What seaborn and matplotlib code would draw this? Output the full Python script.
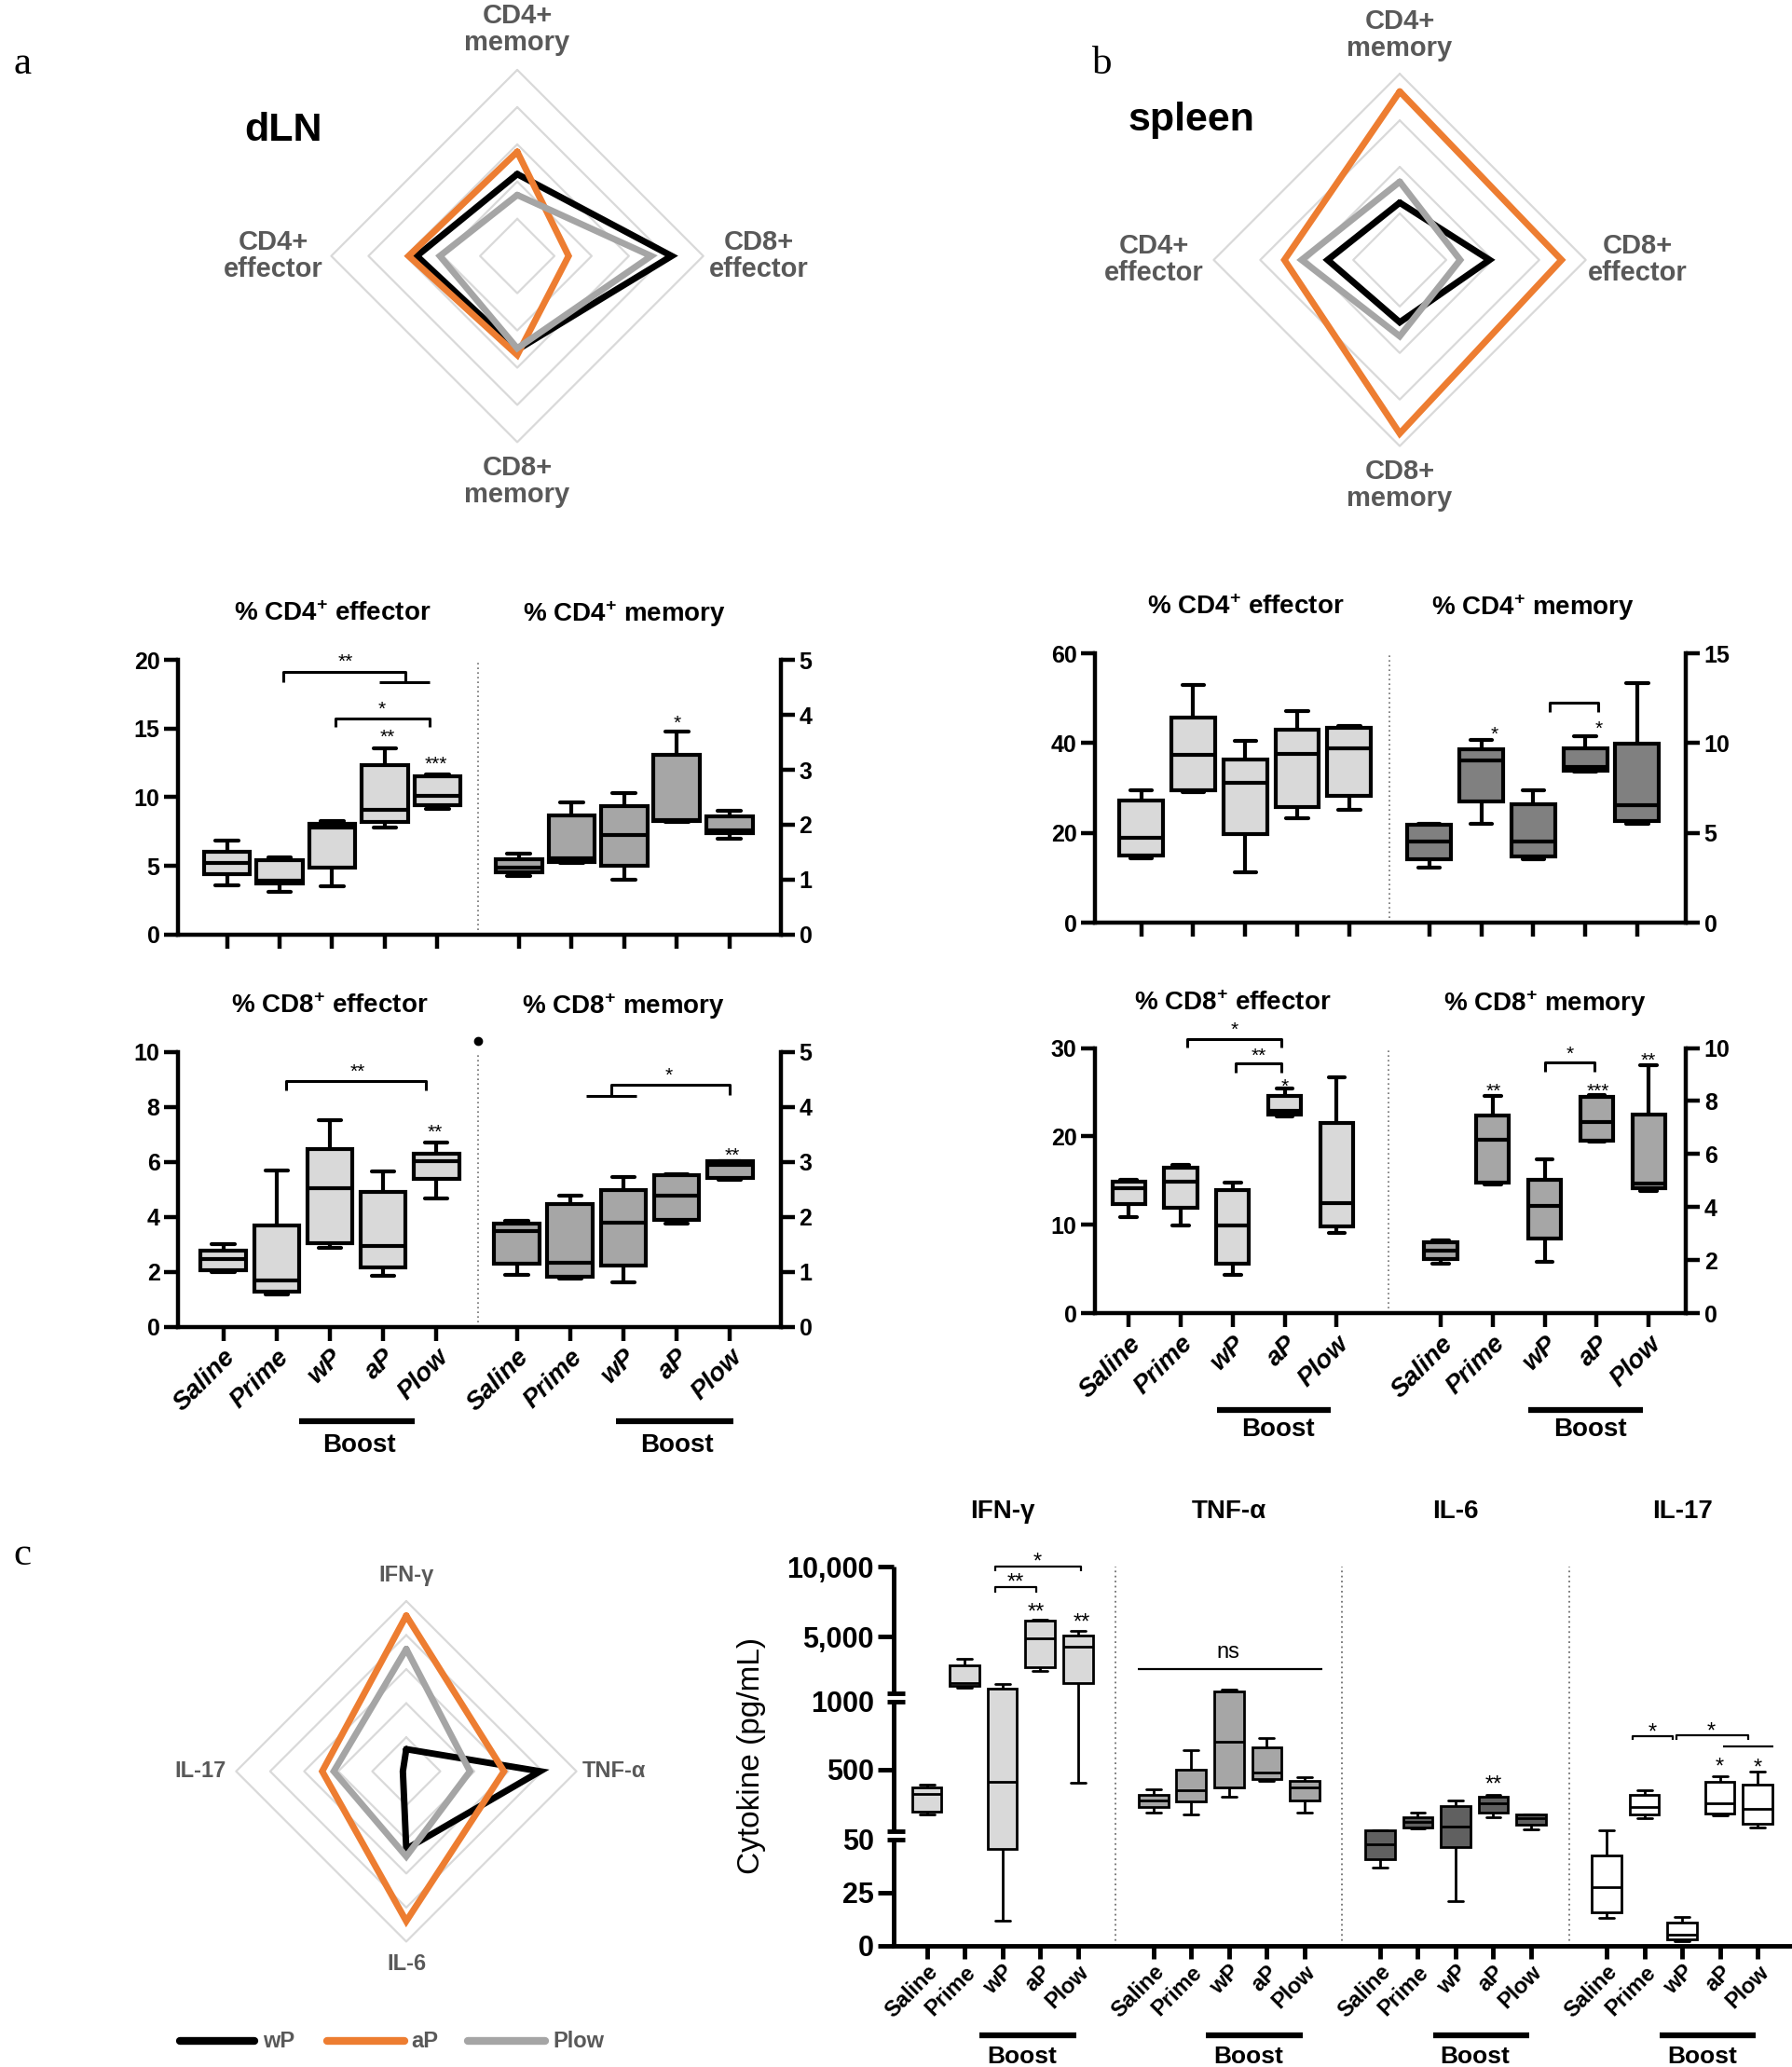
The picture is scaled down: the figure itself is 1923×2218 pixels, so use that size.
import numpy as np
import pandas as pd
import matplotlib
matplotlib.use("Agg")
import matplotlib.pyplot as plt
import matplotlib.transforms as mtrans
from matplotlib.lines import Line2D
import seaborn as sns

sns.set_theme(style="ticks", rc={"axes.edgecolor": "black", "xtick.color": "black",
                                 "ytick.color": "black", "text.color": "black",
                                 "axes.labelcolor": "black"})
plt.rcParams["font.family"] = ["Liberation Sans", "DejaVu Sans"]
plt.rcParams["font.weight"] = "bold"
plt.rcParams["mathtext.fontset"] = "custom"
plt.rcParams["mathtext.bf"] = "Liberation Sans:bold"
plt.rcParams["mathtext.rm"] = "Liberation Sans"

# ---------------- data ----------------
groups = ["Saline", "Prime", "wP", "aP", "Plow"]
radar_colors = {"wP": "#000000", "aP": "#ed7d31", "Plow": "#a5a5a5"}

# radar values in ring units, order: top, right, bottom, left
cell_axes = ["CD4+\nmemory", "CD8+\neffector", "CD8+\nmemory", "CD4+\neffector"]
dln_wp = [2.2, 4.15, 2.52, 2.7]
dln_ap = [2.8, 1.38, 2.66, 2.92]
dln_plow = [1.64, 3.6, 2.48, 2.08]
spleen_wp = [1.23, 1.93, 1.34, 1.55]
spleen_ap = [3.62, 3.48, 3.73, 2.48]
spleen_plow = [1.68, 1.30, 1.64, 2.11]
cyto_axes = ["IFN-γ", "TNF-α", "IL-6", "IL-17"]
cyto_wp = [0.65, 3.93, 2.28, 0.1]
cyto_ap = [4.57, 2.87, 4.4, 2.47]
cyto_plow = [3.59, 1.87, 2.5, 2.13]

# box plots: min, q1, median, q3, max per group
dln_cd4_eff = [[3.60, 4.40, 5.24, 6.04, 6.83], [3.10, 3.75, 3.95, 5.42, 5.65],
               [3.49, 4.85, 7.81, 8.09, 8.27], [7.81, 8.20, 9.07, 12.37, 13.58],
               [9.18, 9.45, 10.09, 11.50, 11.69]]
dln_cd4_mem = [[1.07, 1.13, 1.21, 1.37, 1.47], [1.30, 1.32, 1.38, 2.17, 2.40],
               [1.00, 1.26, 1.82, 2.33, 2.58], [2.05, 2.06, 2.08, 3.27, 3.70],
               [1.74, 1.84, 1.90, 2.15, 2.26]]
dln_cd8_eff = [[1.97, 2.06, 2.46, 2.77, 3.00], [1.17, 1.27, 1.68, 3.67, 5.70],
               [2.88, 3.05, 5.04, 6.48, 7.51], [1.85, 2.15, 2.93, 4.92, 5.66],
               [4.67, 5.37, 6.01, 6.31, 6.72]]
dln_cd8_mem = [[0.94, 1.14, 1.74, 1.88, 1.93], [0.88, 0.91, 1.17, 2.23, 2.39],
               [0.80, 1.12, 1.89, 2.49, 2.73], [1.87, 1.94, 2.39, 2.76, 2.77],
               [2.67, 2.71, 2.95, 3.01, 3.02]]
spl_cd4_eff = [[14.3, 15.0, 18.9, 27.3, 29.5], [29.0, 29.5, 37.3, 45.6, 53.0],
               [11.3, 19.8, 31.2, 36.3, 40.6], [23.3, 25.7, 37.5, 42.9, 47.2],
               [25.2, 28.3, 38.8, 43.4, 43.8]]
spl_cd4_mem = [[3.05, 3.52, 4.51, 5.43, 5.51], [5.51, 6.73, 9.02, 9.64, 10.2],
               [3.55, 3.69, 4.51, 6.61, 7.39], [8.43, 8.46, 8.69, 9.73, 10.37],
               [5.51, 5.64, 6.52, 9.99, 13.37]]
spl_cd8_eff = [[10.88, 12.35, 14.18, 14.88, 15.05], [9.89, 11.89, 14.91, 16.49, 16.74],
               [4.39, 5.58, 9.96, 13.93, 14.8], [22.25, 22.46, 22.9, 24.6, 25.4],
               [9.09, 9.82, 12.46, 21.5, 26.7]]
spl_cd8_mem = [[1.86, 2.04, 2.36, 2.68, 2.75], [4.85, 4.91, 6.55, 7.45, 8.21],
               [1.95, 2.83, 4.06, 5.03, 5.79], [6.46, 6.51, 7.22, 8.15, 8.23],
               [4.61, 4.70, 4.88, 7.49, 9.36]]

# cytokines (pg/mL)
ifn = [[169, 194, 319, 367, 389], [1351, 1486, 1702, 3000, 3457],
       [11.6, 45.5, 411, 1297, 1621], [2593, 2863, 4888, 6157, 6211],
       [403, 1702, 4321, 5077, 5428]]
tnf = [[183, 222, 272, 314, 356], [167, 264, 347, 500, 642],
       [300, 367, 703, 1108, 1243], [417, 433, 475, 661, 731],
       [183, 272, 367, 417, 447]]
il6 = [[36.6, 40.7, 47.9, 55, 56], [69, 78, 119, 153, 186],
       [21.1, 46.4, 83, 231, 272], [147, 181, 250, 300, 314],
       [58, 97, 142, 167, 172]]
il17 = [[13.0, 15.7, 27.7, 42.5, 53], [142, 169, 225, 314, 347],
        [2.3, 3.2, 5.4, 11.1, 13.4], [161, 175, 250, 411, 453],
        [75, 103, 208, 389, 486]]
cyto_ticks = [0, 25, 50, 500, 1000, 5000, 10000]
cyto_tick_labels = ["0", "25", "50", "500", "1000", "5,000", "10,000"]

fig = plt.figure(figsize=(19.24, 22.18), dpi=100)
fig.patch.set_facecolor("white")


def star(ax, x, y, s, size=15):
    tr = mtrans.offset_copy(ax.transData, fig=fig, y=-4, units="points")
    ax.text(x, y, s, ha="center", va="center", fontsize=size, fontweight="normal",
            transform=tr, clip_on=False)


def line(ax, pts, lw=2.2):
    xs, ys = zip(*pts)
    ax.plot(xs, ys, color="black", lw=lw, clip_on=False, solid_capstyle="butt")


def radar(rect, labels, series, n_rings, label_pos, fs=21):
    ax = fig.add_axes(rect)
    ax.set_xlim(-1.2, 1.2)
    ax.set_ylim(-1.2, 1.2)
    ax.axis("off")
    dirs = np.array([[0, 1], [1, 0], [0, -1], [-1, 0], [0, 1]])
    for k in range(1, n_rings + 1):
        ring = dirs * k / n_rings
        ax.plot(ring[:, 0], ring[:, 1], color="#d9d9d9", lw=1.6, zorder=1)
    for name, vals in series:
        r = np.append(vals, vals[0]) / n_rings
        ax.plot(dirs[:, 0] * r, dirs[:, 1] * r, color=radar_colors[name], lw=5,
                solid_joinstyle="miter", zorder=2)
    for lab, (x, y) in zip(labels, label_pos):
        ax.text(x, y, lab, ha="center", va="center", fontsize=fs, color="#595959",
                linespacing=1.05)
    return ax


def box_panel(rect, left, right, colors, lay, lims, titles, show_names, notes):
    ax = fig.add_axes(rect)
    ax2 = ax.twinx()
    off = lay["offset"]
    for a, vals, shift, col in ((ax, left, 0, colors[0]), (ax2, right, off, colors[1])):
        df = pd.DataFrame({"pos": np.repeat(np.arange(len(vals)) + shift, len(vals[0])),
                           "val": np.concatenate(vals)})
        sns.boxplot(data=df, x="pos", y="val", native_scale=True, whis=(0, 100),
                    width=lay["width"], color=col, linecolor="black", linewidth=3.0,
                    fliersize=0, saturation=1, ax=a)
        a.set(xlabel="", ylabel="")
    ax.set_xlim(*lay["xlim"])
    ax.set_ylim(0, lims[0])
    ax.set_yticks(list(range(0, lims[0] + 1, lims[1])))
    ax2.set_ylim(0, lims[2])
    ax2.set_yticks(list(range(0, lims[2] + 1, lims[3])))
    for a in (ax, ax2):
        for s in a.spines.values():
            s.set_visible(False)
    for sp in (ax.spines["left"], ax.spines["bottom"], ax2.spines["right"]):
        sp.set_visible(True)
        sp.set_linewidth(3.2)
    ax.tick_params(axis="both", width=3.2, length=11, labelsize=18, pad=3)
    ax2.tick_params(axis="y", width=3.2, length=11, labelsize=18, pad=3)
    pos = list(range(5)) + [off + i for i in range(5)]
    ax.set_xticks(pos)
    if show_names:
        ax.set_xticklabels(groups * 2, rotation=45, ha="right", rotation_mode="anchor",
                           fontstyle="italic", fontsize=20)
        by, ty = lay["boost_y"]
        xt = ax.get_xaxis_transform()
        for x0, x1, xc in lay["boost"]:
            ax.plot([x0, x1], [by, by], transform=xt, color="black", lw=4.5,
                    clip_on=False, solid_capstyle="butt")
            ax.text(xc, ty, "Boost", transform=xt, ha="center", va="center", fontsize=20)
    else:
        ax.set_xticklabels([""] * 10)
    ax.axvline(lay["sep"], color="#707070", ls=(0, (1, 2)), lw=1.2)
    xt = ax.get_xaxis_transform()
    ax.text(2, lay["title_y"], titles[0], transform=xt, ha="center", va="center", fontsize=20)
    ax.text(off + 2, lay["title_y"], titles[1], transform=xt, ha="center", va="center",
            fontsize=20)
    for side, kind, *args in notes:
        a, sh = (ax, 0) if side == "L" else (ax2, off)
        if kind == "b":
            line(a, [(x + sh, y) for x, y in args[0]])
        elif kind == "t":
            star(a, args[0] + sh, args[1], args[2])
        elif kind == "dot":
            a.plot(args[0], args[1], "o", ms=6, color="black", clip_on=False)
    return ax, ax2


# ---------------- panel a / b radars ----------------
radar([0.1640, 0.7681, 0.249, 0.2161], cell_axes,
      [("wP", dln_wp), ("aP", dln_ap), ("Plow", dln_plow)], 5,
      [(0, 1.22), (1.30, 0), (0, -1.21), (-1.31, 0)])
radar([0.6562, 0.7662, 0.249, 0.2161], cell_axes,
      [("wP", spleen_wp), ("aP", spleen_ap), ("Plow", spleen_plow)], 4,
      [(0, 1.21), (1.28, 0), (0, -1.21), (-1.32, 0)])
fig.text(0.1582, 0.9368, "dLN", ha="center", va="center", fontsize=31)
fig.text(0.6645, 0.9419, "spleen", ha="center", va="center", fontsize=31)

# ---------------- box panels ----------------
box_panel([0.0993, 0.5479, 0.3363, 0.1328], dln_cd4_eff, dln_cd4_mem, ("#d9d9d9", "#a6a6a6"),
          {"xlim": (-0.93, 10.53), "offset": 5.55, "sep": 4.78, "width": 0.88, "title_y": 1.168},
          (20, 5, 5, 1), (r"% CD4$^{\mathbf{+}}$ effector", r"% CD4$^{\mathbf{+}}$ memory"), False,
          [("L", "b", [(1.07, 18.4), (1.07, 19.16), (3.39, 19.16), (3.39, 18.36)]),
           ("L", "b", [(2.89, 18.36), (3.85, 18.36)]),
           ("L", "t", 2.25, 20.2, "**"),
           ("L", "b", [(2.07, 15.1), (2.07, 15.74), (3.85, 15.74), (3.85, 15.1)]),
           ("L", "t", 2.95, 16.8, "*"),
           ("L", "t", 3.05, 14.7, "**"),
           ("L", "t", 3.98, 12.75, "***"),
           ("R", "t", 3.0, 3.93, "*")])

box_panel([0.0993, 0.3582, 0.3363, 0.1328], dln_cd8_eff, dln_cd8_mem, ("#d9d9d9", "#a6a6a6"),
          {"xlim": (-0.85, 10.47), "offset": 5.51, "sep": 4.78, "width": 0.85, "title_y": 1.168,
           "boost_y": (-0.346, -0.433), "boost": [(1.42, 3.6, 2.55), (5.51 + 1.87, 5.51 + 4.06, 5.51 + 3.0)]},
          (10, 2, 5, 1), (r"% CD8$^{\mathbf{+}}$ effector", r"% CD8$^{\mathbf{+}}$ memory"), True,
          [("L", "b", [(1.17, 8.59), (1.17, 8.94), (3.8, 8.94), (3.8, 8.59)]),
           ("L", "t", 2.52, 9.47, "**"),
           ("L", "t", 3.98, 7.25, "**"),
           ("R", "b", [(1.77, 4.20), (1.77, 4.40), (4.0, 4.40), (4.0, 4.22)]),
           ("R", "b", [(1.30, 4.20), (2.24, 4.20)]),
           ("R", "t", 2.85, 4.67, "*"),
           ("R", "t", 4.04, 3.21, "**"),
           ("L", "dot", 4.78, 10.4)])

box_panel([0.6107, 0.5536, 0.3297, 0.1303], spl_cd4_eff, spl_cd4_mem, ("#d9d9d9", "#808080"),
          {"xlim": (-0.89, 10.48), "offset": 5.54, "sep": 4.77, "width": 0.84, "title_y": 1.17},
          (60, 20, 15, 5), (r"% CD4$^{\mathbf{+}}$ effector", r"% CD4$^{\mathbf{+}}$ memory"), False,
          [("R", "t", 1.25, 10.77, "*"),
           ("R", "b", [(2.32, 11.76), (2.32, 12.28), (3.25, 12.28), (3.25, 11.76)]),
           ("R", "t", 3.27, 11.06, "*")])

box_panel([0.6107, 0.3646, 0.3297, 0.1284], spl_cd8_eff, spl_cd8_mem, ("#d9d9d9", "#a6a6a6"),
          {"xlim": (-0.65, 10.72), "offset": 6.0, "sep": 5.0, "width": 0.63, "title_y": 1.169,
           "boost_y": (-0.363, -0.438), "boost": [(1.69, 3.89, 2.87), (7.69, 9.89, 8.88)]},
          (30, 10, 10, 2), (r"% CD8$^{\mathbf{+}}$ effector", r"% CD8$^{\mathbf{+}}$ memory"), True,
          [("L", "b", [(1.13, 30.07), (1.13, 31.05), (2.93, 31.05), (2.93, 30.07)]),
           ("L", "t", 2.03, 32.6, "*"),
           ("L", "b", [(2.05, 27.16), (2.05, 28.25), (2.93, 28.25), (2.93, 27.16)]),
           ("L", "t", 2.5, 29.65, "**"),
           ("L", "t", 3.0, 26.2, "*"),
           ("R", "t", 1.02, 8.56, "**"),
           ("R", "b", [(2.01, 9.12), (2.01, 9.46), (2.95, 9.46), (2.95, 9.12)]),
           ("R", "t", 2.49, 9.96, "*"),
           ("R", "t", 3.02, 8.56, "***"),
           ("R", "t", 4.0, 9.7, "**")])

# ---------------- panel c radar + legend ----------------
radar([0.1127, 0.0442, 0.2278, 0.1977], cyto_axes,
      [("wP", cyto_wp), ("aP", cyto_ap), ("Plow", cyto_plow)], 5,
      [(0, 1.15), (1.22, 0), (0, -1.13), (-1.21, 0)], fs=17)
for name, x0, x1, xt in (("wP", 0.1003, 0.1419, 0.1466), ("aP", 0.1824, 0.2256, 0.2292),
                         ("Plow", 0.2609, 0.3040, 0.3082)):
    fig.add_artist(Line2D([x0, x1], [0.0126, 0.0126], color=radar_colors[name], lw=6,
                          solid_capstyle="round", transform=fig.transFigure))
    fig.text(xt, 0.0126, name, ha="left", va="center", fontsize=17, color="#595959")

# ---------------- panel c cytokines (segmented y axis) ----------------
brk_data = np.array([0, 50, 50.0001, 1000, 1000.0001, 10000])
brk_axis = np.array([0, 280, 303, 645, 667, 1000])


def cyto_fwd(v):
    v = np.asarray(v, dtype=float)
    out = np.interp(v, brk_data, brk_axis)
    hi = (brk_axis[-1] - brk_axis[-2]) / (brk_data[-1] - brk_data[-2])
    lo = (brk_axis[1] - brk_axis[0]) / (brk_data[1] - brk_data[0])
    out = np.where(v > brk_data[-1], brk_axis[-1] + (v - brk_data[-1]) * hi, out)
    return np.where(v < 0, v * lo, out)


def cyto_inv(t):
    t = np.asarray(t, dtype=float)
    out = np.interp(t, brk_axis, brk_data)
    hi = (brk_axis[-1] - brk_axis[-2]) / (brk_data[-1] - brk_data[-2])
    lo = (brk_axis[1] - brk_axis[0]) / (brk_data[1] - brk_data[0])
    out = np.where(t > brk_axis[-1], brk_data[-1] + (t - brk_axis[-1]) / hi, out)
    return np.where(t < 0, t / lo, out)


cax = fig.add_axes([0.4982, 0.0587, 0.5011, 0.1833])
cyto_sets = [(ifn, "#d9d9d9"), (tnf, "#a6a6a6"), (il6, "#606060"), (il17, "#ffffff")]
for g, (vals, col) in enumerate(cyto_sets):
    df = pd.DataFrame({"pos": np.repeat(np.arange(5) + 6 * g, 5), "val": np.concatenate(vals)})
    sns.boxplot(data=df, x="pos", y="val", native_scale=True, whis=(0, 100), width=0.78,
                color=col, linecolor="black", linewidth=2.0, fliersize=0, saturation=1, ax=cax)
cax.set(xlabel="", ylabel="")
cax.set_yscale("function", functions=(cyto_fwd, cyto_inv))
cax.set_ylim(0, 10000)
cax.set_xlim(-0.89, 22.9)
cax.set_yticks(cyto_ticks)
cax.set_yticklabels(cyto_tick_labels, fontsize=22)
for t, v in zip(cax.yaxis.get_major_ticks(), cyto_ticks):
    if v in (50, 1000):
        t.tick1line.set_visible(False)
cax.minorticks_off()
for s in ("top", "right", "left"):
    cax.spines[s].set_visible(False)
cax.spines["bottom"].set_linewidth(3.5)
cax.tick_params(axis="y", width=3.5, length=12, pad=3)
cax.tick_params(axis="x", width=3.5, length=10, pad=2)
yt = cax.get_yaxis_transform()
for lo_v, hi_v in ((brk_data[0], brk_data[1]), (brk_data[2], brk_data[3]), (brk_data[4], brk_data[5])):
    cax.plot([0, 0], [lo_v, hi_v], transform=yt, color="black", lw=3.5, clip_on=False,
             solid_capstyle="butt")
for yv in brk_data[1:5]:
    cax.plot([-0.007, 0.013], [yv, yv], transform=yt, color="black", lw=3.5, clip_on=False,
             solid_capstyle="butt")
cpos = [6 * g + i for g in range(4) for i in range(5)]
cax.set_xticks(cpos)
cax.set_xticklabels(groups * 4, rotation=45, ha="right", rotation_mode="anchor", fontsize=17)
xt = cax.get_xaxis_transform()
for g, title in enumerate(cyto_axes):
    cax.text(6 * g + 2, 1.146, title, transform=xt, ha="center", va="center", fontsize=20)
    cax.plot([6 * g + 1.4, 6 * g + 3.95], [-0.237, -0.237], transform=xt, color="black",
             lw=4.5, clip_on=False, solid_capstyle="butt")
    cax.text(6 * g + 2.52, -0.293, "Boost", transform=xt, ha="center", va="center", fontsize=19)
for sx in (5, 11, 17):
    cax.axvline(sx, color="#707070", ls=(0, (1, 2)), lw=1.3)

line(cax, [(1.81, 9677), (1.81, 10000), (4.07, 10000), (4.07, 9677)], lw=1.6)
star(cax, 2.93, 10666, "*", 17)
line(cax, [(1.81, 8182), (1.81, 8533), (2.89, 8533), (2.89, 8182)], lw=1.6)
star(cax, 2.35, 9208, "**", 17)
star(cax, 2.88, 7102, "**", 17)
star(cax, 4.1, 6373, "**", 17)
cax.text(6 + 1.98, 3916, "ns", ha="center", va="center", fontsize=17, fontweight="normal")
line(cax, [(6 - 0.42, 2674), (6 + 4.46, 2674)], lw=1.6)
star(cax, 15.0, 422, "**", 17)
line(cax, [(18.69, 714), (18.69, 742), (19.76, 742), (19.76, 714)], lw=1.6)
star(cax, 19.21, 806, "*", 17)
line(cax, [(19.86, 714), (19.86, 750), (21.74, 750), (21.74, 714)], lw=1.6)
star(cax, 20.77, 811, "*", 17)
line(cax, [(21.09, 667), (22.42, 667)], lw=1.6)
star(cax, 21.0, 550, "*", 17)
star(cax, 22.0, 544, "*", 17)

fig.text(0.4194, 0.1507, "Cytokine (pg/mL)", rotation=90, ha="center", va="center",
         fontsize=24, fontweight="normal")

# panel letters
for lab, x, y in (("a", 0.0073, 0.969), ("b", 0.609, 0.969), ("c", 0.0073, 0.2478)):
    fig.text(x, y, lab, ha="left", va="center", fontsize=31, fontweight="normal",
             family=["Liberation Serif", "DejaVu Serif"])

fig.savefig("out.png", dpi=100)
